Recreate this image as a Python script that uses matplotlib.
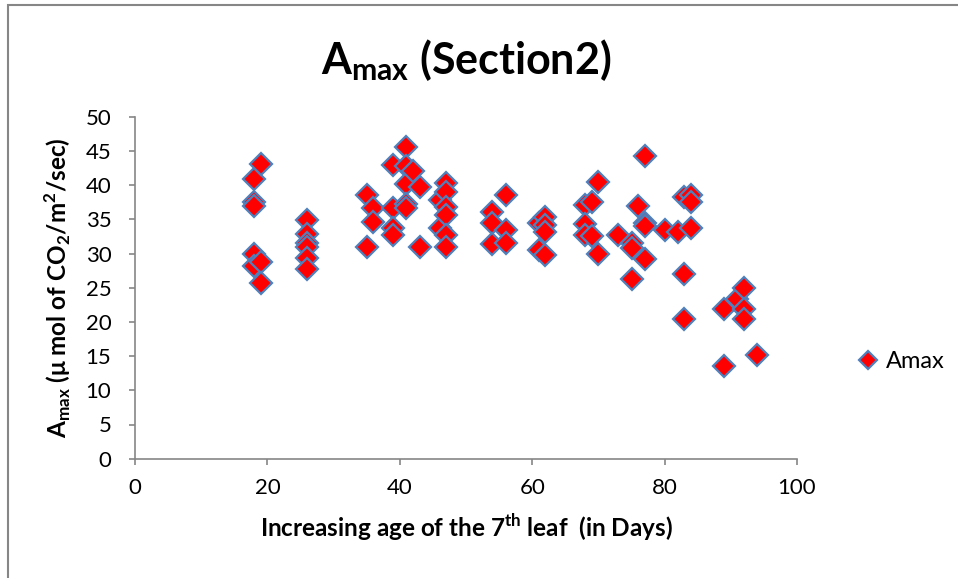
import matplotlib
matplotlib.use("Agg")
import matplotlib.pyplot as plt
from matplotlib.patches import Rectangle

plt.rcParams['font.family'] = ['Lato', 'DejaVu Sans']
plt.rcParams['mathtext.fontset'] = 'custom'
plt.rcParams['mathtext.rm'] = 'Lato'
plt.rcParams['mathtext.bf'] = 'Lato:bold'

# leaf age (days) and Amax readings
age = [18, 18, 18, 18, 18, 19, 19, 19,
       26, 26, 26, 26, 26, 26,
       35, 35, 36, 36, 39, 39, 39, 39,
       41, 41, 41, 41, 41, 42, 43, 43,
       46, 46, 47, 47, 47, 47, 47, 47,
       54, 54, 54, 56, 56, 56, 61, 61, 62, 62, 62, 62,
       68, 68, 68, 69, 69, 70, 70, 73, 75, 75, 75, 76,
       77, 77, 77, 77, 80, 82, 83, 83, 83, 84, 84, 84,
       89, 89, 91, 92, 92, 92, 94]
amax = [40.9, 37.5, 36.9, 30.0, 28.1, 43.1, 28.8, 25.7,
        34.9, 32.8, 31.5, 31.0, 29.3, 27.7,
        38.5, 31.0, 36.6, 34.6, 43.0, 36.6, 33.7, 32.7,
        45.6, 42.8, 40.1, 37.2, 36.6, 42.1, 39.7, 31.0,
        37.8, 33.8, 40.3, 39.0, 36.8, 35.6, 32.7, 30.9,
        36.1, 34.4, 31.4, 38.6, 33.4, 31.5, 34.4, 30.5, 35.4, 34.2, 33.2, 29.8,
        37.1, 34.3, 32.7, 37.5, 32.6, 40.5, 29.9, 32.7, 31.6, 30.8, 26.3, 36.9,
        44.3, 34.5, 34.0, 29.2, 33.4, 33.2, 38.2, 27.0, 20.4, 38.6, 37.6, 33.8,
        21.9, 13.6, 23.4, 25.0, 21.9, 20.4, 15.1]

xticks = [0, 20, 40, 60, 80, 100]
yticks = [0, 5, 10, 15, 20, 25, 30, 35, 40, 45, 50]

fig = plt.figure(figsize=(9.58, 5.78), dpi=100)
ax = fig.add_axes([135 / 958, 1 - 458.7 / 578, 662 / 958, 342 / 578])

ax.plot(age, amax, linestyle='none', marker='D', markersize=11,
        markerfacecolor='#ff0000', markeredgecolor='#4f81bd',
        markeredgewidth=1.6, label='Amax')

ax.set_xlim(0, 100)
ax.set_ylim(0, 50)
ax.set_xticks(xticks)
ax.set_yticks(yticks)
ax.tick_params(direction='out', length=4, width=1.2, color='#868686',
               labelsize=16)
ax.tick_params(axis='y', pad=13)
ax.tick_params(axis='x', pad=10)
for side in ['top', 'right']:
    ax.spines[side].set_visible(False)
for side in ['left', 'bottom']:
    ax.spines[side].set_color('#868686')
    ax.spines[side].set_linewidth(1.2)

ax.set_title(r'$\mathbf{A_{max}}$ (Section2)', fontsize=31, fontweight='bold',
             pad=31)
ax.set_xlabel(r'Increasing age of the 7$^\mathbf{th}$ leaf  (in Days)',
              fontsize=17.5, fontweight='bold', labelpad=10)
ax.set_ylabel(r'$\mathbf{A_{max}}$ ($\mathbf{\mu}$ mol of CO$_\mathbf{2}$/m$^\mathbf{2}$/sec)',
              fontsize=17.5, fontweight='bold', labelpad=9)

fig.legend(loc='center left', bbox_to_anchor=(859 / 958, 1 - 362 / 578),
           frameon=False, fontsize=17, handlelength=0.8, handletextpad=0.35,
           markerscale=0.8, borderaxespad=0, borderpad=0)

# chart frame
fig.patches.append(Rectangle((8 / 958, -0.1), 1.2, 1 - 5 / 578 + 0.1,
                             transform=fig.transFigure, fill=False,
                             edgecolor='#868686', linewidth=1.5))

fig.savefig('out.png', dpi=100)
